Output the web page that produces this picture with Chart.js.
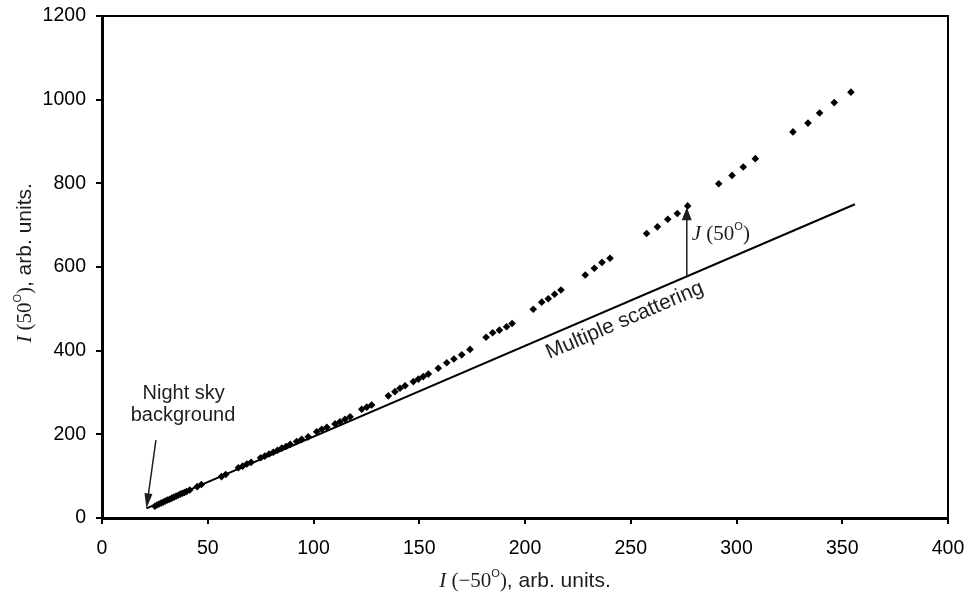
<!DOCTYPE html>
<html>
<head>
<meta charset="utf-8">
<script src="https://cdn.jsdelivr.net/npm/chart.js@4.4.1/dist/chart.umd.min.js"></script>
<style>
html, body { margin: 0; padding: 0; background: #fff; }
</style>
</head>
<body>
<canvas id="scatterChart" width="969" height="596"></canvas>
<script>
// measured points, I(-50) vs I(50)
var xValues = [25, 26, 27, 28, 29, 30, 31, 32, 33, 34, 35, 36, 37, 38, 39, 40, 41.5,
    45, 47, 56.5, 58.5, 64.5, 66.5, 68.5, 70.5,
    75, 77, 79, 81, 83, 85, 87, 89, 92, 94.4, 97.5,
    101.5, 103.9, 106.3, 110.2, 112.5, 114.9, 117.3, 122.8, 125.2, 127.5,
    135.4, 138.5, 140.9, 143.3, 147.2, 149.6, 151.9, 154.3, 159, 163, 166.4, 170.1, 174,
    181.6, 184.7, 187.9, 191.3, 193.9, 203.9, 207.9, 211, 214, 217,
    228.5, 232.8, 236.4, 240.2, 257.5, 262.6, 267.5, 272, 276.9,
    291.6, 297.9, 303.2, 308.9, 326.7, 333.8, 339.3, 346.2, 354.1];
var yValues = [28, 31, 33.5, 36, 38, 40.5, 43, 45, 47.5, 50, 52, 54.5, 57, 59, 61, 63.5, 67,
    75, 80, 99, 104, 120, 124, 129, 133,
    144, 148, 153, 157, 162, 167, 171, 176, 183, 188, 194,
    206, 212, 217, 225, 230, 236, 242, 260, 265, 270,
    292, 302, 310, 316, 326, 332, 338, 344, 358, 371, 380, 390, 403,
    432, 443, 449, 457, 465, 499, 516, 524, 535, 545,
    581, 597, 611, 621, 680, 696, 714, 728, 746,
    799, 819, 839, 859, 923, 944, 968, 993, 1018];

// multiple scattering line
var lineX = [21, 356];
var lineY = [23, 750];

var xTicks = [0, 50, 100, 150, 200, 250, 300, 350, 400];
var yTicks = [0, 200, 400, 600, 800, 1000, 1200];

var sans = '"Liberation Sans", Arial, sans-serif';
var serif = '"Liberation Serif", "Times New Roman", serif';
var ink = '#1e1e1e';

function toPoints(xs, ys) {
    return xs.map(function (x, i) { return { x: x, y: ys[i] }; });
}

// text made of pieces with different fonts (italic I, superscript o ...)
function richText(ctx, parts, x, y, align, angle) {
    var w = 0;
    parts.forEach(function (p) { ctx.font = p[1]; w += ctx.measureText(p[0]).width; });
    ctx.save();
    ctx.translate(x, y);
    ctx.rotate(angle || 0);
    ctx.textBaseline = 'alphabetic';
    ctx.textAlign = 'left';
    ctx.fillStyle = ink;
    var cx = align === 'center' ? -w / 2 : 0;
    parts.forEach(function (p) {
        ctx.font = p[1];
        ctx.fillText(p[0], cx, p[2] || 0);
        cx += ctx.measureText(p[0]).width;
    });
    ctx.restore();
}

function arrow(ctx, x1, y1, x2, y2, headLen, headW) {
    var a = Math.atan2(y2 - y1, x2 - x1);
    ctx.save();
    ctx.strokeStyle = ink;
    ctx.fillStyle = ink;
    ctx.lineWidth = 1.5;
    ctx.beginPath();
    ctx.moveTo(x1, y1);
    ctx.lineTo(x2 - Math.cos(a) * headLen * 0.8, y2 - Math.sin(a) * headLen * 0.8);
    ctx.stroke();
    ctx.translate(x2, y2);
    ctx.rotate(a);
    ctx.beginPath();
    ctx.moveTo(0, 0);
    ctx.lineTo(-headLen, -headW);
    ctx.lineTo(-headLen, headW);
    ctx.closePath();
    ctx.fill();
    ctx.restore();
}

var decorations = {
    id: 'decorations',
    afterDraw: function (chart) {
        var ctx = chart.ctx, a = chart.chartArea;
        var xs = chart.scales.x, ys = chart.scales.y;

        // top and right frame lines
        ctx.save();
        ctx.strokeStyle = '#000';
        ctx.lineWidth = 2;
        ctx.beginPath();
        ctx.moveTo(a.left, a.top);
        ctx.lineTo(a.right, a.top);
        ctx.lineTo(a.right, a.bottom);
        ctx.stroke();
        ctx.restore();

        // axis titles
        var big = '21px ' + sans;
        var sup = '11px ' + sans;
        richText(ctx, [['I', 'italic 21px ' + serif], [' (\u221250', '21px ' + serif], ['O', sup, -10],
            [')', '21px ' + serif], [', arb. units.', big]], (a.left + a.right) / 2, 587, 'center');
        richText(ctx, [['I', 'italic 21px ' + serif], [' (50', '21px ' + serif], ['O', sup, -10],
            [')', '21px ' + serif], [', arb. units.', big]], 31, 263, 'center', -Math.PI / 2);

        // night sky background
        ctx.save();
        ctx.fillStyle = ink;
        ctx.font = '20px ' + sans;
        ctx.textAlign = 'center';
        ctx.fillText('Night sky', xs.getPixelForValue(38.6), 399);
        ctx.fillText('background', xs.getPixelForValue(38.3), 421);
        ctx.restore();
        arrow(ctx, xs.getPixelForValue(25.5), ys.getPixelForValue(186),
            xs.getPixelForValue(lineX[0]), ys.getPixelForValue(lineY[0]), 15, 4);

        // J(50) arrow between the line and the data
        var jx = xs.getPixelForValue(276.5);
        arrow(ctx, jx, ys.getPixelForValue(578), jx, ys.getPixelForValue(743), 13, 5);
        richText(ctx, [['J', 'italic 21px ' + serif], [' (50', '21px ' + serif], ['O', sup, -10],
            [')', '21px ' + serif]], jx + 5, 240, 'left');

        // label along the line
        var p1x = xs.getPixelForValue(lineX[0]), p1y = ys.getPixelForValue(lineY[0]);
        var p2x = xs.getPixelForValue(lineX[1]), p2y = ys.getPixelForValue(lineY[1]);
        var ang = Math.atan2(p2y - p1y, p2x - p1x);
        richText(ctx, [['Multiple scattering', '21px ' + sans]],
            xs.getPixelForValue(211.5), ys.getPixelForValue(380), 'left', ang);
    }
};

function plain(v) { return String(v); }

var ctx = document.getElementById('scatterChart').getContext('2d');
var chart = new Chart(ctx, {
    type: 'scatter',
    data: {
        datasets: [{
            label: 'data',
            data: toPoints(xValues, yValues),
            pointStyle: 'rectRot',
            pointRadius: 3.8,
            pointHoverRadius: 3.8,
            backgroundColor: '#000',
            borderWidth: 0
        }, {
            label: 'Multiple scattering',
            data: toPoints(lineX, lineY),
            showLine: true,
            pointRadius: 0,
            borderColor: '#000',
            borderWidth: 2
        }]
    },
    options: {
        responsive: false,
        animation: false,
        devicePixelRatio: 1,
        layout: { padding: { top: 16, right: 21, left: 0, bottom: 0 } },
        plugins: {
            legend: { display: false },
            tooltip: { enabled: false }
        },
        scales: {
            x: {
                type: 'linear',
                min: 0,
                max: 400,
                afterBuildTicks: function (s) { s.ticks = xTicks.map(function (v) { return { value: v }; }); },
                afterFit: function (s) { s.height = 78; s.paddingLeft = 0; s.paddingRight = 0; },
                ticks: { color: '#000', font: { family: sans, size: 19.5 }, padding: 13, maxRotation: 0, callback: plain },
                grid: { drawOnChartArea: false, drawTicks: true, tickLength: 6, color: '#000', lineWidth: 2 },
                border: { display: true, color: '#000', width: 3 }
            },
            y: {
                type: 'linear',
                min: 0,
                max: 1200,
                afterBuildTicks: function (s) { s.ticks = yTicks.map(function (v) { return { value: v }; }); },
                afterFit: function (s) { s.width = 102; s.paddingTop = 0; s.paddingBottom = 0; },
                ticks: { color: '#000', font: { family: sans, size: 19.5 }, padding: 10, callback: plain },
                grid: { drawOnChartArea: false, drawTicks: true, tickLength: 6, color: '#000', lineWidth: 2 },
                border: { display: true, color: '#000', width: 3 }
            }
        }
    },
    plugins: [decorations]
});
</script>
</body>
</html>
